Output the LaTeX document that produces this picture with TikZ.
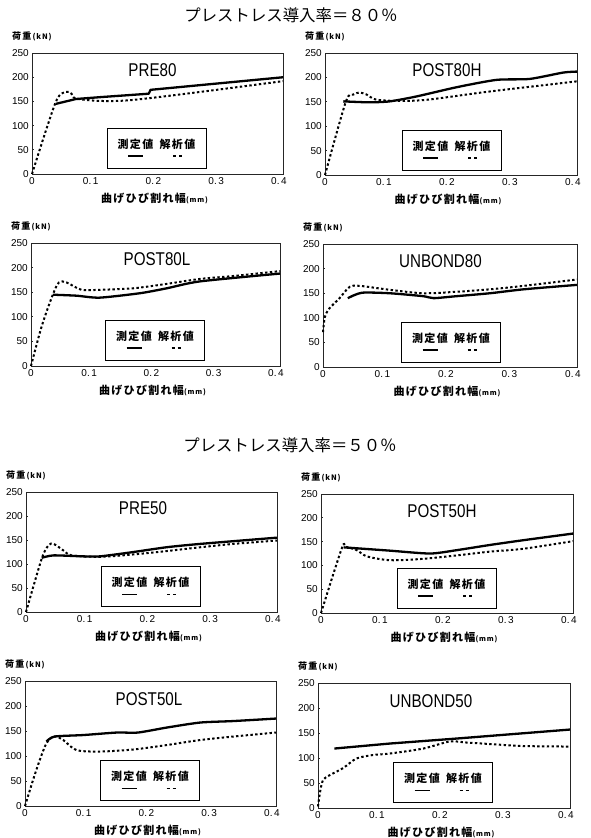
\documentclass[tikz,border=0pt]{standalone}
\usepackage{fontspec}
\newfontfamily\cjk{Noto Sans CJK JP}
\newfontfamily\cjkwide[LetterSpace=12]{Noto Sans CJK JP}
\newfontfamily\condfont[FakeStretch=0.82]{Liberation Sans}
\newfontfamily\tickfont{Liberation Sans}
\usetikzlibrary{calc}

\tikzset{
  framebox/.style={draw=black!85, line width=0.9pt},
  ticky/.style={anchor=east, inner sep=0pt, xshift=-3pt, font=\tickfont\fontsize{10}{10}\selectfont},
  tickx/.style={anchor=north, inner sep=0pt, yshift=-3pt, font=\tickfont\fontsize{10}{10}\selectfont},
  xlab/.style={inner sep=0pt, yshift=-25pt, xshift=-3pt, font=\cjkwide\bfseries\fontsize{11}{11}\selectfont},
  ylab/.style={anchor=west, inner sep=0pt, xshift=-20pt, yshift=16.5pt, font=\cjkwide\bfseries\fontsize{9}{9}\selectfont},
  plotname/.style={inner sep=0pt, font=\condfont\fontsize{18.5}{18.5}\selectfont},
  sectitle/.style={inner sep=0pt, font=\cjk\fontsize{16.4}{16.4}\selectfont},
  legbox/.style={draw, line width=0.9pt, minimum width=99pt, minimum height=40pt, inner sep=0pt},
  legtext/.style={inner sep=0pt, font=\cjkwide\bfseries\fontsize{11}{11}\selectfont},
  meas/.style={line width=2.3pt, line join=round},
  ana/.style={line width=2pt, dash pattern=on 2.4pt off 2.4pt},
  data/.style n args={4}{shift={(#1,#2)}, x=#3*2.5pt, y=#4*0.004pt}
}

% frame, ticks and axis texts of one plot: name, left, bottom, width, height
\newcommand{\plotframe}[5]{%
  \begin{scope}[data={#2}{#3}{#4}{#5}]
    \draw[framebox] (0,0) rectangle (0.4,250);
    \foreach \v [count=\i] in {0,50,...,250} {
      \node[ticky] (#1y\i) at (0,\v) {\v};
      \draw[framebox] (0,\v) -- ++(2pt,0);
    }
    \foreach \m/\t/\s [count=\i] in {0/0/0,0.1/0.\,1/-4,0.2/0.\,2/-4,0.3/0.\,3/-4,0.4/0.\,4/-4}
      \node[tickx, xshift=\s pt] (#1x\i) at (\m,0) {\t};
    \node[xlab] (#1xl) at (0.2,0) {曲げひび割れ幅{\fontsize{7}{7}\selectfont(mm)}};
    \node[ylab] (#1yl) at (0,250) {荷重{\fontsize{7.5}{7.5}\selectfont\,(kN)}};
  \end{scope}}

% legend: name, centre
\newcommand{\legendbox}[3]{%
  \node[legbox] (#1leg) at (#2,#3) {};
  \node[legtext] (#1m) at ($(#1leg.center)+(-21,-4)$) {測定値};
  \node[legtext] (#1a) at ($(#1leg.center)+(21,-4)$) {解析値};
  \draw[meas, line width=1.6pt] ($(#1m.center)+(-7.5,12)$) -- ($(#1m.center)+(7.5,12)$);
  \draw[ana, line width=1.6pt, dash pattern=on 3pt off 3pt] ($(#1a.center)+(-4.5,12)$) -- ($(#1a.center)+(4.5,12)$);
}

\begin{document}
\begin{tikzpicture}[x=1pt, y=-1pt]
\useasboundingbox (0,0) rectangle (590,838);

\node[sectitle] (head80) at (291,15) {プレストレス導入率＝８０％};
\node[sectitle] (head50) at (290,445) {プレストレス導入率＝５０％};

% PRE80
\plotframe{pre80}{32}{174}{251}{121}
\node[plotname] (pre80name) at (152.5,70) {PRE80};
\legendbox{pre80}{156.5}{148}
\begin{scope}[data={32}{174}{251}{121}]
  \draw[ana] plot[smooth, tension=0.5] coordinates {(0,0) (0.037,146) (0.053,170) (0.063,166) (0.07,156) (0.11,151) (0.16,153) (0.27,170) (0.4,192)};
  \draw[meas] (0.038,145) -- (0.07,155) -- (0.11,159) -- (0.186,166) -- (0.189,174) -- (0.4,200);
\end{scope}

% POST80H
\plotframe{post80h}{325}{175}{252}{122}
\node[plotname] (post80hname) at (447,70) {POST80H};
\legendbox{post80h}{451.5}{150}
\begin{scope}[data={325}{175}{252}{122}]
  \draw[ana] plot[smooth, tension=0.5] coordinates {(0,0) (0.033,150) (0.045,165) (0.055,169) (0.066,165) (0.08,155) (0.11,152) (0.16,154) (0.26,171) (0.4,192)};
  \draw[meas] plot[smooth, tension=0.4] coordinates {(0.029,151) (0.07,149) (0.103,151) (0.145,161) (0.209,180) (0.272,195) (0.325,197) (0.378,210) (0.4,212)};
\end{scope}

% POST80L
\plotframe{post80l}{31}{366}{249}{123}
\node[plotname] (post80lname) at (157,259.5) {POST80L};
\legendbox{post80l}{155}{340}
\begin{scope}[data={31}{366}{249}{123}]
  \draw[ana] plot[smooth, tension=0.5] coordinates {(0,0) (0.017,80) (0.035,145) (0.045,170) (0.057,170) (0.081,155) (0.11,155) (0.164,158) (0.218,167) (0.271,177) (0.325,183) (0.4,193)};
  \draw[meas] plot[smooth, tension=0.4] coordinates {(0.035,145) (0.073,143) (0.11,139) (0.175,148) (0.218,158) (0.271,172) (0.4,188)};
\end{scope}

% UNBOND80
\plotframe{unb80}{323}{367}{254}{123}
\node[plotname] (unb80name) at (440.5,261.5) {UNBOND80};
\legendbox{unb80}{451}{342}
\begin{scope}[data={323}{367}{254}{123}]
  \draw[ana] plot[smooth, tension=0.5] coordinates {(0,71) (0.003,102) (0.01,119) (0.026,140) (0.042,163) (0.058,165) (0.105,157) (0.158,150) (0.21,153) (0.263,158) (0.316,165) (0.4,178)};
  \draw[meas] plot[smooth, tension=0.4] coordinates {(0.039,140) (0.061,151) (0.105,150) (0.158,144) (0.174,140) (0.21,144) (0.263,150) (0.316,158) (0.4,167)};
\end{scope}

% PRE50
\plotframe{pre50}{26}{612}{251}{120}
\node[plotname] (pre50name) at (143,508.5) {PRE50};
\legendbox{pre50}{150.5}{586.5}
\begin{scope}[data={26}{612}{251}{120}]
  \draw[ana] plot[smooth, tension=0.5] coordinates {(0,0) (0.025,111) (0.036,139) (0.044,142) (0.06,128) (0.073,118) (0.118,115) (0.171,120) (0.224,127) (0.278,135) (0.331,142) (0.4,149)};
  \draw[meas] plot[smooth, tension=0.4] coordinates {(0.025,113) (0.044,118) (0.091,116) (0.118,116) (0.171,125) (0.224,135) (0.278,142) (0.4,155)};
\end{scope}

% POST50H
\plotframe{post50h}{321}{613}{252}{119}
\node[plotname] (post50hname) at (442,511) {POST50H};
\legendbox{post50h}{446.5}{588}
\begin{scope}[data={321}{613}{252}{119}]
  \draw[ana] plot[smooth, tension=0.5] coordinates {(0,0) (0.033,136) (0.039,139) (0.057,132) (0.073,119) (0.11,111) (0.163,114) (0.215,121) (0.268,129) (0.321,135) (0.4,151)};
  \draw[meas] plot[smooth, tension=0.4] coordinates {(0.036,138) (0.057,136) (0.11,131) (0.173,125) (0.215,132) (0.268,143) (0.321,153) (0.4,167)};
\end{scope}

% POST50L
\plotframe{post50l}{25}{806}{251}{125}
\node[plotname] (post50lname) at (149,699) {POST50L};
\legendbox{post50l}{150}{780.5}
\begin{scope}[data={25}{806}{251}{125}]
  \draw[ana] plot[smooth, tension=0.5] coordinates {(0,0) (0.018,72) (0.034,125) (0.047,139) (0.061,132) (0.082,112) (0.119,109) (0.172,113) (0.226,122) (0.279,132) (0.332,139) (0.4,147)};
  \draw[meas] plot[smooth, tension=0.4] coordinates {(0.034,129) (0.047,139) (0.093,142) (0.146,147) (0.18,147) (0.226,157) (0.279,167) (0.332,170) (0.4,175)};
\end{scope}

% UNBOND50
\plotframe{unb50}{318}{808}{252}{125}
\node[plotname] (unb50name) at (431,701.5) {UNBOND50};
\legendbox{unb50}{443}{782.5}
\begin{scope}[data={318}{808}{252}{125}]
  \draw[ana] plot[smooth, tension=0.5] coordinates {(0,3) (0.003,30) (0.008,56) (0.019,66) (0.04,80) (0.061,99) (0.087,106) (0.114,109) (0.167,119) (0.209,133) (0.236,131) (0.273,128) (0.326,124) (0.4,123)};
  \draw[meas] (0.026,119) -- (0.114,129) -- (0.22,139) -- (0.4,157);
\end{scope}
\end{tikzpicture}
\end{document}
